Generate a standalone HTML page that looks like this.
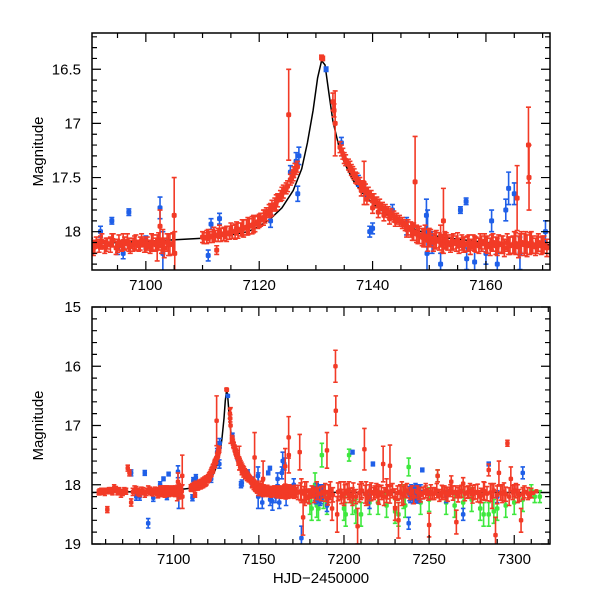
<!DOCTYPE html>
<html><head><meta charset="utf-8"><style>
html,body{margin:0;padding:0;background:#fff}
svg{display:block}
text{font-family:"Liberation Sans",sans-serif;font-size:15px;fill:#000}
</style></head><body>
<svg id="chart" width="600" height="600" viewBox="0 0 600 600" xmlns="http://www.w3.org/2000/svg"></svg>
<script>
const modelX=[7052,7070,7090,7100,7110,7115,7118,7120,7122,7124,7126,7127.5,7128.5,7129.5,7130.3,7131,7131.6,7132.3,7133,7134,7135,7136.5,7138,7140,7142,7145,7148,7152,7160,7171,7200,7250,7321];
const modelY=[18.13,18.12,18.11,18.09,18.06,18.03,18.0,17.95,17.88,17.78,17.62,17.42,17.18,16.88,16.58,16.42,16.46,16.72,16.98,17.2,17.36,17.52,17.63,17.74,17.82,17.92,17.99,18.05,18.1,18.12,18.13,18.13,18.13];
const redX=[7056,7058,7060,7061,7063,7065,7067,7069,7071,7073,7074,7075,7077,7079,7081,7083,7085,7087,7089,7091,7092,7093,7094,7095,7096,7097,7098,7099,7100,7101,7102,7102.5,7103,7104,7105,7105.1,7110,7111,7112,7112.5,7113,7114,7115,7116,7117,7118,7119,7120,7121,7122,7123,7124,7125,7125.2,7125.5,7126,7126.3,7131,7131.2,7133,7133.2,7133.4,7134.5,7135,7136,7136.5,7137,7138,7138.5,7139,7140,7141,7142,7143,7144,7146,7147,7147.5,7148,7149,7150,7151,7152,7152.5,7153,7154,7155,7156,7157,7158,7159,7160,7161,7162,7163,7164,7165,7165.5,7166,7167,7167.5,7167.6,7168,7169,7170,7172,7174,7175,7176,7177,7178,7180,7182,7185,7188,7190,7191,7193,7195,7195.2,7196,7198,7200,7203,7205,7208,7210,7212,7213,7215,7218,7220,7223,7225,7227,7230,7232,7234,7236,7240,7244,7248,7250,7252,7255,7258,7260,7263,7266,7268,7270,7273,7276,7280,7282,7285,7287,7289,7291,7293,7296,7298,7300,7302,7304,7306,7308,7310];
const redY=[18.13,18.12,18.1,18.42,18.09,18.05,18.12,18.15,18.1,17.72,17.8,18.3,18.08,18.12,18.1,18.15,18.08,18.12,18.1,18.14,18.1,18.12,18.08,18.13,18.09,18.12,18.1,18.11,18.13,18.1,18.15,17.95,18.08,18.12,17.85,18.2,18.05,18.03,18.02,18.17,18,18.01,17.98,17.97,17.96,17.95,17.93,17.9,17.86,17.8,17.73,17.65,17.58,16.92,17.52,17.48,17.42,16.39,16.4,16.8,16.88,17,17.25,17.32,17.4,17.45,17.5,17.62,17.55,17.7,17.78,17.82,17.85,17.88,17.9,17.98,18,17.54,18.03,18.06,18.05,18.08,18.04,17.9,18.08,18.1,18.08,18.12,18.1,18.11,18.09,18.12,18.1,18.14,18.12,18.13,18.1,17.69,18.12,18.1,17.2,17.5,18.1,18.12,18.12,18.13,17.45,18.1,18.55,18.15,18.2,18.15,18.12,18.15,18.12,17.42,18.15,18.4,16,16.75,18.5,18.1,18.15,18.1,18.2,18.7,18.1,17.4,18.15,18.1,18.12,18.15,17.65,18.1,17.68,18.4,18.6,18.15,18.1,18.12,18.15,18.12,18.68,18.15,17.85,18.12,18.15,17.95,18.63,18.12,17.98,18.12,18.15,18.2,18.1,17.75,18.2,18.85,17.8,18.15,17.3,17.9,18.1,18.15,18.6,18.12,18.15,18.14];
const redE=[.04,.04,.04,.05,.04,.05,.05,.06,.05,.05,.05,.06,.06,.06,.06,.06,.06,.06,.06,.06,.06,.06,.06,.06,.07,.06,.06,.06,.06,.08,.12,.15,.1,.1,.35,.2,.05,.05,.06,.04,.06,.05,.06,.06,.07,.08,.08,.06,.06,.06,.07,.06,.05,.42,.05,.05,.05,.02,.02,.08,.06,.3,.05,.05,.05,.05,.05,.05,.2,.05,.05,.05,.05,.05,.05,.07,.08,.42,.08,.08,.08,.08,.1,.3,.07,.07,.07,.07,.07,.07,.07,.07,.07,.08,.08,.08,.1,.3,.1,.1,.35,.3,.1,.08,.08,.08,.3,.2,.3,.2,.1,.08,.08,.1,.1,.3,.15,.2,.27,.25,.3,.15,.2,.15,.15,.3,.15,.35,.2,.1,.1,.15,.3,.2,.35,.2,.3,.2,.1,.1,.1,.1,.2,.1,.1,.1,.1,.1,.2,.1,.1,.1,.1,.1,.15,.1,.2,.3,.2,.15,.05,.2,.1,.15,.2,.1,.1,.08];
const redDenseX=[7056.5,7057.5,7059.5,7062,7064,7066,7068,7070,7072,7076,7078,7080,7082,7084,7086,7088,7090.25,7090.75,7091.25,7091.75,7092.25,7092.75,7093.25,7093.75,7094.25,7094.75,7095.25,7095.75,7096.25,7096.75,7097.25,7097.75,7098.25,7098.75,7099.25,7099.75,7100.25,7100.75,7101.25,7101.75,7102.25,7102.75,7103.25,7103.75,7104.25,7104.75,7110.25,7110.75,7111.25,7111.75,7112.25,7112.75,7113.25,7113.75,7114.25,7114.75,7115.25,7115.75,7116.25,7116.75,7117.25,7117.75,7118.25,7118.75,7119.25,7119.75,7120.25,7120.75,7121.25,7121.75,7122.25,7122.75,7123.25,7123.75,7124.25,7124.75,7125.75,7126.1,7126.5,7126.75,7134.25,7134.75,7135.25,7135.75,7136.25,7136.75,7137.25,7137.75,7138.25,7138.75,7139.25,7139.75,7140.25,7140.75,7141.25,7141.75,7142.25,7142.75,7143.25,7143.75,7144.25,7144.75,7145.25,7145.75,7146.25,7146.75,7147.25,7147.75,7148.25,7148.75,7149.25,7149.75,7150.25,7150.75,7151.25,7151.75,7152.25,7152.75,7153.25,7153.75,7154.25,7154.75,7155.25,7155.75,7156.25,7156.75,7157.25,7157.75,7158.25,7158.75,7159.25,7159.75,7160.25,7160.75,7161.25,7161.75,7162.25,7162.75,7163.25,7163.75,7164.25,7164.75,7165.25,7165.75,7166.25,7166.75,7167.25,7167.75,7168.25,7168.75,7169.25,7169.75,7170.25,7170.75,7171.5,7173,7174.5,7176.5,7178,7179.5,7181,7182.5,7184,7186.5,7189,7190.5,7192,7193.5,7196.5,7198.5,7200.5,7202,7203.5,7205.5,7207,7209,7210.5,7212.5,7214,7216,7217.5,7219,7220.5,7222,7223.5,7225.5,7227,7228.5,7230,7231.5,7233,7235,7237,7239,7241,7243,7245,7246.5,7248,7249.5,7251,7253,7254.5,7256,7257.5,7259,7261,7262.5,7264,7265.5,7267,7269,7271,7272.5,7274,7275.5,7277,7278.5,7280.5,7282.5,7284,7286,7288,7290,7292,7294,7295,7297,7299,7301,7303,7305,7307,7309,7311,7313];
const redDenseY=[18.12,18.11,18.13,18.1,18.12,18.08,18.1,18.13,18.11,18.12,18.09,18.14,18.11,18.12,18.1,18.13,18.12,18.15,18.1,18.13,18.09,18.14,18.11,18.12,18.08,18.15,18.1,18.13,18.11,18.09,18.14,18.12,18.1,18.13,18.08,18.12,18.11,18.14,18.1,18.12,18.09,18.13,18.15,18.1,18.12,18.11,18.06,18.05,18.05,18.04,18.04,18.03,18.03,18.02,18.02,18.01,18.0,18.0,17.99,17.98,17.97,17.96,17.95,17.94,17.93,17.91,17.89,17.87,17.84,17.81,17.78,17.75,17.71,17.67,17.63,17.6,17.5,17.45,17.42,17.4,17.22,17.28,17.34,17.38,17.43,17.47,17.51,17.55,17.58,17.61,17.64,17.67,17.7,17.73,17.75,17.78,17.8,17.82,17.84,17.86,17.88,17.9,17.92,17.94,17.96,17.98,18.0,18.02,18.03,18.05,18.04,18.08,18.06,18.1,18.07,18.09,18.11,18.08,18.1,18.12,18.09,18.11,18.13,18.1,18.12,18.11,18.14,18.1,18.12,18.13,18.11,18.09,18.12,18.14,18.1,18.13,18.11,18.12,18.15,18.1,18.13,18.12,18.11,18.14,18.1,18.12,18.13,18.11,18.12,18.14,18.1,18.13,18.12,18.15,18.11,18.13,18.12,18.15,18.1,18.2,18.12,18.18,18.1,18.15,18.13,18.22,18.1,18.17,18.12,18.2,18.15,18.1,18.18,18.12,18.2,18.14,18.1,18.16,18.22,18.12,18.15,18.1,18.18,18.13,18.2,18.12,18.16,18.1,18.22,18.14,18.12,18.18,18.1,18.15,18.2,18.12,18.17,18.14,18.1,18.16,18.12,18.15,18.1,18.18,18.13,18.12,18.16,18.1,18.14,18.12,18.17,18.11,18.15,18.13,18.1,18.16,18.12,18.14,18.18,18.11,18.15,18.13,18.1,18.17,18.14,18.12,18.16,18.2,18.13,18.1,18.18,18.15,18.12,18.2,18.14,18.11,18.16,18.13,18.18];
const redDenseE=[.05,.05,.05,.05,.05,.05,.05,.05,.05,.06,.06,.06,.06,.06,.06,.06,.06,.07,.05,.06,.07,.06,.05,.07,.06,.06,.07,.05,.06,.07,.06,.06,.07,.05,.06,.07,.06,.06,.07,.06,.08,.07,.09,.08,.1,.1,.05,.06,.05,.06,.05,.06,.06,.06,.07,.06,.06,.07,.07,.06,.08,.07,.07,.08,.07,.06,.06,.07,.06,.06,.07,.06,.06,.05,.06,.05,.05,.05,.05,.05,.05,.05,.05,.05,.05,.05,.05,.05,.05,.05,.05,.05,.05,.05,.05,.05,.05,.05,.05,.05,.05,.05,.05,.05,.07,.07,.08,.08,.08,.08,.1,.1,.08,.08,.08,.08,.08,.08,.07,.07,.07,.07,.07,.07,.07,.07,.07,.07,.07,.07,.07,.07,.08,.08,.08,.08,.08,.08,.08,.08,.08,.08,.1,.1,.1,.1,.1,.1,.08,.08,.08,.08,.08,.08,.1,.12,.15,.12,.15,.12,.1,.12,.15,.12,.15,.12,.15,.12,.15,.12,.15,.12,.12,.15,.12,.15,.12,.15,.12,.15,.1,.12,.15,.12,.15,.12,.15,.12,.15,.12,.12,.15,.12,.1,.12,.1,.12,.1,.12,.1,.12,.1,.12,.1,.12,.1,.12,.1,.12,.1,.12,.1,.12,.1,.12,.15,.12,.15,.12,.15,.12,.15,.12,.15,.12,.15,.12,.15,.12,.12,.1,.1];
const blueX=[7075,7078,7083,7085,7092,7094,7096,7097,7102.5,7103,7111,7111.5,7113,7122,7125.5,7126.5,7127,7126.8,7131.8,7134.5,7137.5,7138.5,7139.5,7140,7143.5,7146,7149.5,7149.6,7149.7,7150.5,7152,7155.5,7156.5,7156.6,7160,7161,7162,7163.5,7164,7165,7170.5,7175,7185,7186,7190,7205,7215,7217,7238,7240,7242,7244,7246,7260,7270,7285,7290,7300,7305,7183,7183.5,7184,7184.5,7185.5,7186.5,7187,7187.5,7238.5,7239,7239.5,7240.5,7241,7241.5,7242.5,7243,7243.5,7244.5,7245,7080,7088,7095,7100,7158,7166];
const blueY=[17.8,18.2,17.8,18.65,18,17.9,18.2,17.82,17.78,18.2,18.22,17.93,17.88,17.9,17.45,17.35,17.3,17.65,16.5,17.18,17.53,17.62,18,17.97,17.8,17.95,17.85,18.2,18,18.1,18.3,17.8,17.72,18.25,18.2,17.9,18.3,17.8,17.6,17.65,18,18.9,18.15,18.2,18.35,17.45,18.2,17.65,18.65,18.15,18.1,18.2,17.75,18.2,18.5,17.65,18.2,18.1,17.8,18.15,18.2,18.1,18.18,18.14,18.2,18.12,18.16,18.15,18.18,18.12,18.2,18.14,18.17,18.12,18.19,18.14,18.16,18.12,18.2,18.22,18.15,18.1,18.28,18.2];
const blueE=[.05,.06,.04,.08,.05,.03,.05,.03,.1,.2,.05,.05,.05,.06,.06,.08,.08,.07,.02,.05,.05,.05,.05,.05,.05,.08,.15,.2,.2,.1,.1,.03,.03,.1,.1,.1,.1,.1,.15,.1,.1,.2,.15,.15,.1,.03,.2,.03,.1,.1,.12,.1,.03,.1,.1,.03,.1,.1,.1,.12,.12,.12,.12,.12,.12,.12,.12,.12,.12,.12,.12,.12,.12,.12,.12,.12,.12,.12,.06,.06,.06,.06,.15,.15];
const greenX=[7180,7181,7183,7184,7185,7187,7188,7190,7200,7201,7203,7205,7207,7210,7215,7220,7225,7230,7232,7235,7236,7238,7245,7250,7255,7260,7265,7270,7275,7280,7282,7285,7288,7290,7295,7300,7305,7310,7312,7315];
const greenY=[18.3,18.4,18,18.35,18.4,17.5,18.2,18.3,18.4,18.5,17.5,18.3,18.45,18.5,18.3,18.3,18.35,18.45,18.5,18.2,18.35,17.7,18.3,18.25,17.85,18.3,18.35,18.3,18.25,18.4,18.5,18.5,18.45,18.4,18.35,18.3,18.25,18.1,18.2,18.2];
const greenE=[.2,.2,.2,.2,.2,.2,.2,.2,.2,.2,.1,.2,.2,.2,.2,.2,.2,.2,.2,.2,.2,.15,.2,.2,.1,.2,.2,.2,.2,.2,.2,.2,.2,.2,.2,.2,.2,.1,.1,.1];
const topXTicks=[7100,7120,7140,7160];
const topYTicks=[16.5,17,17.5,18];
const botXTicks=[7100,7150,7200,7250,7300];
const botYTicks=[15,16,17,18,19];

const NS="http://www.w3.org/2000/svg";
const svg=document.getElementById('chart');
function mk(tag,attrs,parent){const e=document.createElementNS(NS,tag);for(const k in attrs)e.setAttribute(k,attrs[k]);(parent||svg).appendChild(e);return e;}

function panel(name,L,R,T,B,x0,x1,y0,y1,xt,yt,xMinor,yMinor,showXTitle,ms){
  const g=mk('g',{});
  
  
  const sx=v=>L+(v-x0)/(x1-x0)*(R-L);
  const sy=v=>T+(v-y0)/(y1-y0)*(B-T);
  const cid='clip-'+name;
  const cp=mk('clipPath',{id:cid},g);mk('rect',{x:L,y:T,width:R-L,height:B-T},cp);
  const data=mk('g',{'clip-path':'url(#'+cid+')'},g);
  
  
  let d='';modelX.forEach((x,i)=>{d+=(i?'L':'M')+sx(x).toFixed(1)+' '+sy(modelY[i]).toFixed(1);});
  const ml=mk('path',{d:d,fill:'none',stroke:'#000','stroke-width':1.5},data);
  
  
  function series(X,Y,E,col,sname){
    const sg=mk('g',{},data);
    
    
    const h=ms/2;
    X.forEach((x,i)=>{
      const px=sx(x),py=sy(Y[i]),ya=sy(Y[i]-E[i]),yb=sy(Y[i]+E[i]);
      mk('path',{d:`M${px} ${ya}V${yb}M${px-h} ${ya}h${ms}M${px-h} ${yb}h${ms}`,stroke:col,'stroke-width':1.6,fill:'none'},sg);
      const c=mk('rect',{x:px-h,y:py-h,width:ms,height:ms,rx:1.5,fill:col},sg);
      
      
    });
  }
  series(greenX,greenY,greenE,'#3ee83e','green-series');
  series(blueX,blueY,blueE,'#1f5fe8','blue-series');
  series(redDenseX,redDenseY,redDenseE,'#f23a26','red-series-dense');
  series(redX,redY,redE,'#f23a26','red-series');
  const fr=mk('rect',{x:L,y:T,width:R-L,height:B-T,fill:'none',stroke:'#000','stroke-width':1.5},g);
  
  
  let tk='';
  for(let v=Math.ceil(x0/xMinor)*xMinor;v<=x1;v+=xMinor){const px=sx(v);const maj=xt.includes(v);const l=maj?9:5;tk+=`M${px} ${B}v${-l}M${px} ${T}v${l}`;}
  for(let k=Math.ceil(Math.min(y0,y1)/yMinor-1e-6);k*yMinor<=Math.max(y0,y1)+1e-9;k++){const v=+(k*yMinor).toFixed(3);const py=sy(v);const maj=yt.some(t=>Math.abs(t-v)<1e-6);const l=maj?9:5;tk+=`M${L} ${py}h${l}M${R} ${py}h${-l}`;}
  mk('path',{d:tk,stroke:'#000','stroke-width':1.2,fill:'none'},g);
  xt.forEach(v=>{const t=mk('text',{x:sx(v),y:B+20,'text-anchor':'middle'},g);t.textContent=v;
    
    });
  yt.forEach(v=>{const t=mk('text',{x:L-11,y:sy(v)+5,'text-anchor':'end'},g);t.textContent=String(v);
    
    });
  const yl=mk('text',{x:0,y:0,transform:`translate(43 ${(T+B)/2}) rotate(-90)`,'text-anchor':'middle'},g);yl.textContent='Magnitude';
  
  
  if(showXTitle){const xl=mk('text',{x:(L+R)/2,y:B+39,'text-anchor':'middle'},g);xl.textContent='HJD\u22122450000';
    
    }
}
panel('top-panel',92,550,33,270,7090.5,7171.3,16.165,18.354,topXTicks,topYTicks,5,0.1,false,5);
panel('bottom-panel',92,550,307,544,7052,7321,15,19,botXTicks,botYTicks,10,0.2,true,4.5);
</script>
</body></html>
